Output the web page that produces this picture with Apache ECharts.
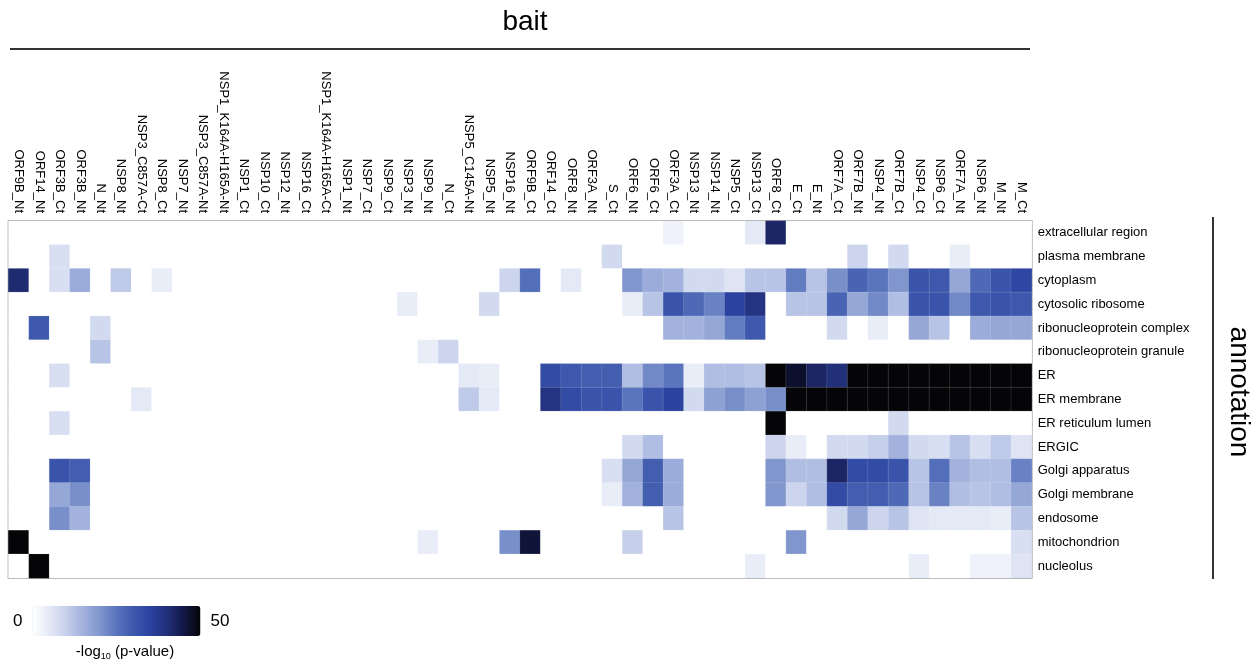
<!DOCTYPE html>
<html><head><meta charset="utf-8">
<script src="https://cdn.jsdelivr.net/npm/echarts@6/dist/echarts.min.js"></script>
<style>html,body{margin:0;padding:0;background:#fff}#c{width:1259px;height:668px}</style>
</head><body><div id="c"></div>
<script>
const baits = ['ORF9B_Nt','ORF14_Nt','ORF3B_Ct','ORF3B_Nt','N_Nt','NSP8_Nt','NSP3_C857A-Ct','NSP8_Ct','NSP7_Nt','NSP3_C857A-Nt',
  'NSP1_K164A-H165A-Nt','NSP1_Ct','NSP10_Ct','NSP12_Nt','NSP16_Ct','NSP1_K164A-H165A-Ct','NSP1_Nt','NSP7_Ct','NSP9_Ct','NSP3_Nt',
  'NSP9_Nt','N_Ct','NSP5_C145A-Nt','NSP5_Nt','NSP16_Nt','ORF9B_Ct','ORF14_Ct','ORF8_Nt','ORF3A_Nt','S_Ct',
  'ORF6_Nt','ORF6_Ct','ORF3A_Ct','NSP13_Nt','NSP14_Nt','NSP5_Ct','NSP13_Ct','ORF8_Ct','E_Ct','E_Nt',
  'ORF7A_Ct','ORF7B_Nt','NSP4_Nt','ORF7B_Ct','NSP4_Ct','NSP6_Ct','ORF7A_Nt','NSP6_Nt','M_Nt','M_Ct'];
const annotations = ['extracellular region','plasma membrane','cytoplasm','cytosolic ribosome','ribonucleoprotein complex',
  'ribonucleoprotein granule','ER','ER membrane','ER reticulum lumen','ERGIC','Golgi apparatus','Golgi membrane',
  'endosome','mitochondrion','nucleolus'];

const extracellularRegion = [0,0,0,0,0,0,0,0,0,0, 0,0,0,0,0,0,0,0,0,0, 0,0,0,0,0,0,0,0,0,0, 0,0,3,0,0,0,5,42,0,0, 0,0,0,0,0,0,0,0,0,0];
const plasmaMembrane      = [0,0,7,0,0,0,0,0,0,0, 0,0,0,0,0,0,0,0,0,0, 0,0,0,0,0,0,0,0,0,8, 0,0,0,0,0,0,0,0,0,0, 0,9,0,8,0,0,4,0,0,0];
const cytoplasm           = [41,0,7,16,0,11,0,4,0,0, 0,0,0,0,0,0,0,0,0,0, 0,0,0,0,9,26,0,5,0,0, 20,16,15,8,8,6,12,12,24,12, 21,28,25,20,31,30,17,27,31,34];
const cytosolicRibosome   = [0,0,0,0,0,0,0,0,0,0, 0,0,0,0,0,0,0,0,0,4, 0,0,0,8,0,0,0,0,0,0, 4,12,31,27,23,35,39,0,12,12, 28,17,22,13,31,31,22,30,31,30];
const rnpComplex          = [0,30,0,0,8,0,0,0,0,0, 0,0,0,0,0,0,0,0,0,0, 0,0,0,0,0,0,0,0,0,0, 0,0,15,15,17,24,30,0,0,0, 8,0,4,0,17,12,0,16,17,17];
const rnpGranule          = [0,0,0,0,12,0,0,0,0,0, 0,0,0,0,0,0,0,0,0,0, 4,9,0,0,0,0,0,0,0,0, 0,0,0,0,0,0,0,0,0,0, 0,0,0,0,0,0,0,0,0,0];
const er                  = [0,0,7,0,0,0,0,0,0,0, 0,0,0,0,0,0,0,0,0,0, 0,0,5,4,0,0,33,30,29,29, 13,22,25,4,13,13,12,50,47,42, 40,50,50,50,50,50,50,50,50,50];
const erMembrane          = [0,0,0,0,0,0,5,0,0,0, 0,0,0,0,0,0,0,0,0,0, 0,0,11,5,0,0,39,33,31,31, 25,31,35,8,18,21,18,21,50,50, 50,50,50,50,50,50,50,50,50,50];
const erLumen             = [0,0,7,0,0,0,0,0,0,0, 0,0,0,0,0,0,0,0,0,0, 0,0,0,0,0,0,0,0,0,0, 0,0,0,0,0,0,0,50,0,0, 0,0,0,8,0,0,0,0,0,0];
const ergic               = [0,0,0,0,0,0,0,0,0,0, 0,0,0,0,0,0,0,0,0,0, 0,0,0,0,0,0,0,0,0,0, 8,13,0,0,0,0,0,9,4,0, 8,8,10,15,8,7,12,7,11,6];
const golgiApparatus      = [0,0,31,29,0,0,0,0,0,0, 0,0,0,0,0,0,0,0,0,0, 0,0,0,0,0,0,0,0,0,7, 17,29,16,0,0,0,0,20,13,13, 42,33,33,31,12,26,15,13,13,23];
const golgiMembrane       = [0,0,17,21,0,0,0,0,0,0, 0,0,0,0,0,0,0,0,0,0, 0,0,0,0,0,0,0,0,0,4, 15,29,16,0,0,0,0,20,9,13, 33,29,29,27,12,23,13,12,13,17];
const endosome            = [0,0,21,15,0,0,0,0,0,0, 0,0,0,0,0,0,0,0,0,0, 0,0,0,0,0,0,0,0,0,0, 0,0,12,0,0,0,0,0,0,0, 8,17,9,12,6,5,5,5,4,12];
const mitochondrion       = [50,0,0,0,0,0,0,0,0,0, 0,0,0,0,0,0,0,0,0,0, 4,0,0,0,21,46,0,0,0,0, 10,0,0,0,0,0,0,0,20,0, 0,0,0,0,0,0,0,0,0,7];
const nucleolus           = [0,50,0,0,0,0,0,0,0,0, 0,0,0,0,0,0,0,0,0,0, 0,0,0,0,0,0,0,0,0,0, 0,0,0,0,0,0,4,0,0,0, 0,0,0,0,4,0,0,3,3,6];

const rows = [extracellularRegion, plasmaMembrane, cytoplasm, cytosolicRibosome, rnpComplex, rnpGranule,
  er, erMembrane, erLumen, ergic, golgiApparatus, golgiMembrane, endosome, mitochondrion, nucleolus];
const scaleMin = 0, scaleMax = 50;
const scaleLabels = ['50', '0'];

const data = [];
rows.forEach((row, y) => row.forEach((v, x) => data.push([x, y, v])));

const FONT = "'Liberation Sans', Arial, Helvetica, sans-serif";
const chart = echarts.init(document.getElementById('c'), null, {renderer: 'canvas'});
chart.setOption({
  animation: false,
  backgroundColor: '#ffffff',
  title: [
    {text: 'bait', left: 520, top: 3, textAlign: 'center',
     textStyle: {fontFamily: FONT, fontSize: 28, fontWeight: 'normal', color: '#000'}},
    {text: '-log{sub|10} (p-value)', left: 120, top: 638, textAlign: 'center',
     textStyle: {fontFamily: FONT, fontSize: 15, fontWeight: 'normal', color: '#000',
       rich: {sub: {fontFamily: FONT, fontSize: 9, padding: [9, 0, 0, 0], color: '#000'}}}}
  ],
  grid: {left: 8.5, right: 227.3, top: 221, bottom: 90, show: true, borderColor: '#7f7f7f', borderWidth: 1.5},
  xAxis: {type: 'category', position: 'top', data: baits,
    axisLine: {show: false}, axisTick: {show: false}, splitLine: {show: false},
    axisLabel: {rotate: 90, interval: 0, margin: 8, fontFamily: FONT, fontSize: 13, color: '#000'}},
  yAxis: {type: 'category', position: 'right', inverse: true, data: annotations,
    axisLine: {show: false}, axisTick: {show: false}, splitLine: {show: false},
    axisLabel: {interval: 0, margin: 6, fontFamily: FONT, fontSize: 13, color: '#000'}},
  visualMap: {type: 'continuous', min: scaleMin, max: scaleMax, orient: 'horizontal', left: -2, top: 591,
    itemWidth: 30, itemHeight: 168, text: scaleLabels, textGap: 10, calculable: false, hoverLink: false,
    textStyle: {fontFamily: FONT, fontSize: 17, color: '#000'},
    inRange: {color: ['#ffffff','#e4e9f6','#c6d0eb','#a3b2dd','#8096cd','#5a75bd','#3d58ac','#2b42a0','#22307a','#121846','#050507']}},
  series: [{type: 'heatmap', data: data,
    itemStyle: {borderColor: 'rgba(255,255,255,0.12)', borderWidth: 1},
    emphasis: {disabled: true}}],
  graphic: [
    {type: 'line', shape: {x1: 10, y1: 49, x2: 1030, y2: 49}, style: {stroke: '#333', lineWidth: 2}},
    {type: 'line', shape: {x1: 1213, y1: 217, x2: 1213, y2: 579}, style: {stroke: '#333', lineWidth: 2}},
    {type: 'text', x: 1239, y: 392, rotation: -Math.PI / 2,
     style: {text: 'annotation', fontFamily: FONT, fontSize: 28, fill: '#000', align: 'center', verticalAlign: 'middle'}}
  ]
});
</script></body></html>
